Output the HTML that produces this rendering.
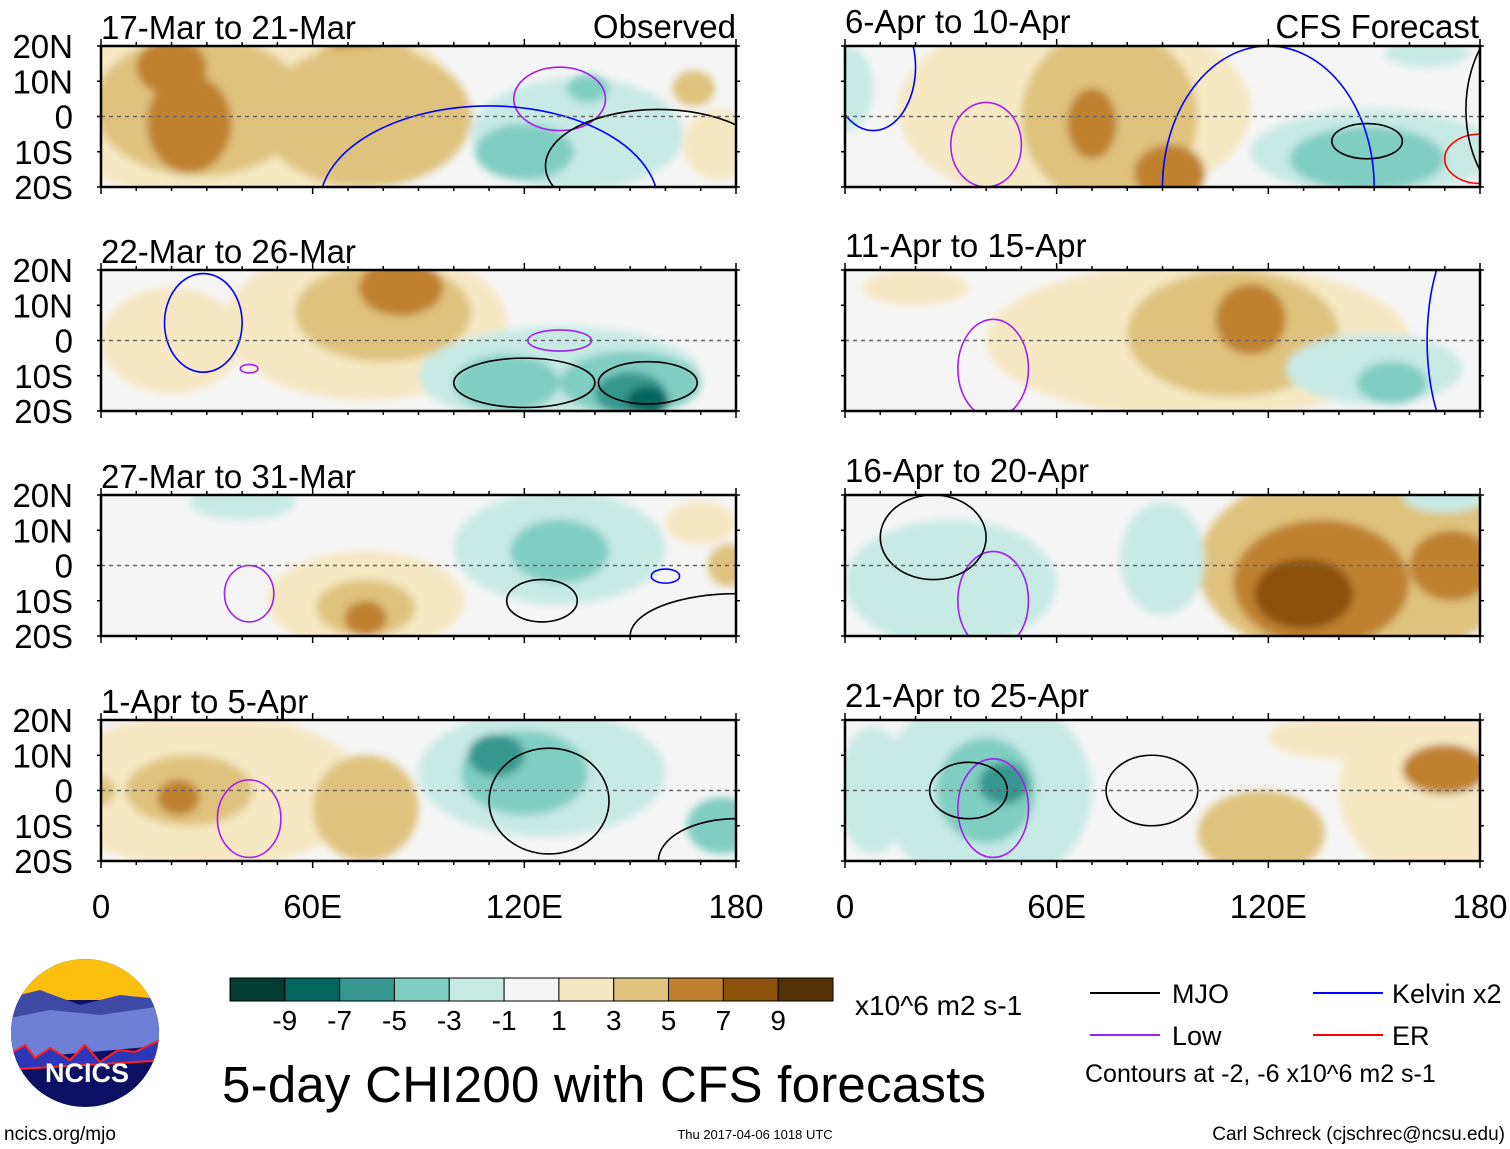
<!DOCTYPE html>
<html><head><meta charset="utf-8"><style>
html,body{margin:0;padding:0;background:#fff;}
svg{display:block;font-family:"Liberation Sans",Arial,sans-serif;}
</style></head><body>
<svg id="chart" width="1510" height="1149" viewBox="0 0 1510 1149" xmlns="http://www.w3.org/2000/svg">
<defs><filter id="blur" x="-20%" y="-20%" width="140%" height="140%"><feGaussianBlur stdDeviation="4"/></filter></defs>
<g id="panels"></g>
<g id="static">
 <g id="cbar"></g>
 <text x="855" y="1015" font-size="28">x10^6 m2 s-1</text>
 <text x="222" y="1102" font-size="51" textLength="764">5-day CHI200 with CFS forecasts</text>
 <text x="4" y="1140" font-size="19">ncics.org/mjo</text>
 <text x="755" y="1139" font-size="13" text-anchor="middle">Thu 2017-04-06 1018 UTC</text>
 <text x="1505" y="1140" font-size="19" text-anchor="end">Carl Schreck (cjschrec@ncsu.edu)</text>
 <g>
  <line x1="1090" y1="993" x2="1160" y2="993" stroke="#000" stroke-width="2"/>
  <text x="1172" y="1003" font-size="27">MJO</text>
  <line x1="1090" y1="1035" x2="1160" y2="1035" stroke="#a020f0" stroke-width="2"/>
  <text x="1172" y="1045" font-size="27">Low</text>
  <line x1="1313" y1="993" x2="1383" y2="993" stroke="#0000ff" stroke-width="2"/>
  <text x="1392" y="1003" font-size="27">Kelvin x2</text>
  <line x1="1313" y1="1035" x2="1383" y2="1035" stroke="#ff0000" stroke-width="2"/>
  <text x="1392" y="1045" font-size="27">ER</text>
  <text x="1085" y="1082" font-size="25">Contours at -2, -6 x10^6 m2 s-1</text>
 </g>
 <g>
  <clipPath id="lc"><ellipse cx="85" cy="1033" rx="74" ry="74"/></clipPath>
  <g clip-path="url(#lc)">
   <rect x="0" y="955" width="170" height="160" fill="#0b1063"/>
   <rect x="0" y="955" width="170" height="45" fill="#fbbf10"/>
   <path d="M0 1000 L40 990 L80 1005 L120 995 L170 1000 L170 1030 L0 1040Z" fill="#3d4aa8"/>
   <path d="M0 1020 L50 1010 L100 1015 L170 1005 L170 1045 L0 1060Z" fill="#6e7fd6"/>
   <path d="M0 1060 L25 1045 L35 1058 L50 1048 L70 1060 L85 1045 L100 1062 L118 1050 L135 1052 L170 1035 L170 1060 L0 1070Z" fill="#2b37b8" stroke="#ff2020" stroke-width="2"/>
  </g>
  <text x="87" y="1082" font-size="27" font-weight="bold" fill="#fff" text-anchor="middle">NCICS</text>
 </g>
</g>
</svg>
<script>
const colors=["#003c30","#01665e","#35978f","#80cdc1","#c7eae5","#f5f5f5","#f6e8c3","#dfc27d","#bf812d","#8c510a","#543005"];
const cbarLabels=["-9","-7","-5","-3","-1","1","3","5","7","9"];
const latTicks=["20N","10N","0","10S","20S"];
const latVals=[20,10,0,-10,-20];
const lonTicks=["0","60E","120E","180"];
const lonVals=[0,60,120,180];
const panelTitles=["17-Mar to 21-Mar","22-Mar to 26-Mar","27-Mar to 31-Mar","1-Apr to 5-Apr","6-Apr to 10-Apr","11-Apr to 15-Apr","16-Apr to 20-Apr","21-Apr to 25-Apr"];
// shading blobs: [lon, lat, rxDeg, ryDeg, colorIndex]
const shade0=[[40,5,60,30,6],[28,3,30,20,7],[25,-2,12,14,8],[20,14,10,8,8],[75,15,15,8,7],[72,16,8,6,8],[75,0,30,20,7],[135,-5,30,16,4],[120,-10,14,8,3],[138,8,6,4,3],[175,-8,10,10,6],[168,8,6,5,7]];
const shade1=[[75,5,40,22,6],[80,8,25,14,7],[85,15,12,8,8],[130,-10,40,14,4],[115,-12,15,8,3],[150,-12,20,9,3],[150,-15,10,6,2],[155,-17,6,4,1],[20,0,20,15,6]];
const shade2=[[75,-10,28,14,6],[75,-12,14,8,7],[75,-15,6,5,8],[130,5,30,16,4],[130,4,14,9,3],[40,18,15,5,4],[170,12,10,6,6],[178,0,6,6,7]];
const shade3=[[30,0,45,22,6],[25,0,18,10,7],[22,-2,6,5,8],[75,-5,15,15,7],[125,5,35,18,4],[120,5,18,12,3],[112,10,8,6,2],[176,-10,10,8,3],[0,0,4,4,7]];
const shade4=[[65,2,50,28,6],[75,0,25,25,7],[70,-2,7,10,8],[92,-16,10,8,8],[150,-10,35,12,4],[148,-12,22,9,3],[0,8,8,12,4],[165,18,12,4,4]];
const shade5=[[100,0,60,22,6],[110,2,30,18,7],[115,6,10,10,8],[150,-8,25,10,4],[155,-12,10,6,3],[20,15,15,5,6]];
const shade6=[[145,0,45,28,7],[135,-5,25,18,8],[130,-8,14,10,9],[172,0,12,10,8],[30,-5,30,18,4],[90,2,12,16,4],[170,20,12,5,4]];
const shade7=[[40,0,30,28,4],[40,0,14,15,3],[45,2,7,6,2],[8,0,10,18,4],[118,-12,18,12,7],[165,0,25,25,6],[170,6,12,7,8],[140,15,20,6,6]];
const shades=[shade0,shade1,shade2,shade3,shade4,shade5,shade6,shade7];
// contours: [lon, lat, rxDeg, ryDeg, color]
const cont=[
 [[130,5,13,9,"#a020f0"],[158,-14,32,16,"#000"],[110,-25,48,28,"#0000ff"]],
 [[130,0,9,3,"#a020f0"],[120,-12,20,7,"#000"],[155,-12,14,6,"#000"],[42,-8,2.5,1.2,"#a020f0"],[29,5,11,14,"#0000ff"]],
 [[42,-8,7,8,"#a020f0"],[125,-10,10,6,"#000"],[160,-3,4,2,"#0000ff"],[180,-20,30,12,"#000"]],
 [[42,-8,9,11,"#a020f0"],[127,-3,17,15,"#000"],[180,-20,22,12,"#000"]],
 [[40,-8,10,12,"#a020f0"],[148,-7,10,5,"#000"],[180,-12,10,7,"#ff0000"],[198,2,22,30,"#000"],[8,14,12,18,"#0000ff"],[120,-20,30,40,"#0000ff"]],
 [[42,-8,10,14,"#a020f0"],[180,0,15,35,"#0000ff"]],
 [[42,-10,10,14,"#a020f0"],[25,8,15,12,"#000"]],
 [[42,-5,10,14,"#a020f0"],[35,0,11,8,"#000"],[87,0,13,10,"#000"]]
];
const NS="http://www.w3.org/2000/svg";
const W=635,H=141;
const px=[101,101,101,101,845,845,845,845];
const py=[46,270,495,720,46,270,495,720];
const root=document.getElementById('panels');
function mk(t,a,p){const e=document.createElementNS(NS,t);for(const k in a)e.setAttribute(k,a[k]);p.appendChild(e);return e;}
for(let i=0;i<8;i++){
 const x0=px[i],y0=py[i];
 const xs=l=>x0+l/180*W, ys=la=>y0+(20-la)/40*H;
 const g=mk('g',{},root);
 
 
 const cp=mk('clipPath',{id:'cp'+i},g);mk('rect',{x:x0,y:y0,width:W,height:H},cp);
 const inner=mk('g',{'clip-path':'url(#cp'+i+')'},g);
 mk('rect',{x:x0,y:y0,width:W,height:H,fill:colors[5]},inner);
 const sg=mk('g',{filter:'url(#blur)'},inner);
 shades[i].forEach(b=>{const e=mk('ellipse',{cx:xs(b[0]),cy:ys(b[1]),rx:b[2]/180*W,ry:b[3]/40*H,fill:colors[b[4]]},sg);
  
  });
 cont[i].forEach(c=>{const e=mk('ellipse',{cx:xs(c[0]),cy:ys(c[1]),rx:c[2]/180*W,ry:c[3]/40*H,fill:'none',stroke:c[4],'stroke-width':1.6},inner);
  
  });
 mk('line',{x1:x0,y1:ys(0),x2:x0+W,y2:ys(0),stroke:'#666','stroke-width':1.5,'stroke-dasharray':'4,4'},inner);
 mk('rect',{x:x0,y:y0,width:W,height:H,fill:'none',stroke:'#000','stroke-width':2.5},g);
 for(let l=0;l<=180;l+=10){const len=l%60==0?7:4;
  mk('line',{x1:xs(l),y1:y0,x2:xs(l),y2:y0-len,stroke:'#000','stroke-width':1.5},g);
  mk('line',{x1:xs(l),y1:y0+H,x2:xs(l),y2:y0+H+len,stroke:'#000','stroke-width':1.5},g);}
 latVals.forEach(la=>{mk('line',{x1:x0,y1:ys(la),x2:x0-4,y2:ys(la),stroke:'#000','stroke-width':1.5},g);
  mk('line',{x1:x0+W,y1:ys(la),x2:x0+W+4,y2:ys(la),stroke:'#000','stroke-width':1.5},g);});
 const t=mk('text',{x:x0,y:y0-(i<4?7:13),'font-size':33},g);t.textContent=panelTitles[i];
 
 
 if(i<4){latTicks.forEach((s,k)=>{const tt=mk('text',{x:73,y:ys(latVals[k])+12,'font-size':33,'text-anchor':'end'},g);tt.textContent=s;
  
  });}
 if(i==3||i==7){lonTicks.forEach((s,k)=>{const tt=mk('text',{x:xs(lonVals[k]),y:918,'font-size':33,'text-anchor':'middle'},g);tt.textContent=s;
  
  });}
 if(i==0){const o=mk('text',{x:736,y:38,'font-size':33,'text-anchor':'end'},g);o.textContent='Observed';
  
  }
 if(i==4){const o=mk('text',{x:1479,y:38,'font-size':33,'text-anchor':'end'},g);o.textContent='CFS Forecast';
  
  }
}
const cb=document.getElementById('cbar');
const bw=(833-230)/11;
colors.forEach((c,k)=>{const r=mk('rect',{x:230+k*bw,y:978,width:bw,height:23,fill:c,stroke:'#000','stroke-width':1},cb);
 
 });
cbarLabels.forEach((s,k)=>{const t=mk('text',{x:230+(k+1)*bw,y:1030,'font-size':28,'text-anchor':'middle'},cb);t.textContent=s;
 
 });
</script>
</body></html>
